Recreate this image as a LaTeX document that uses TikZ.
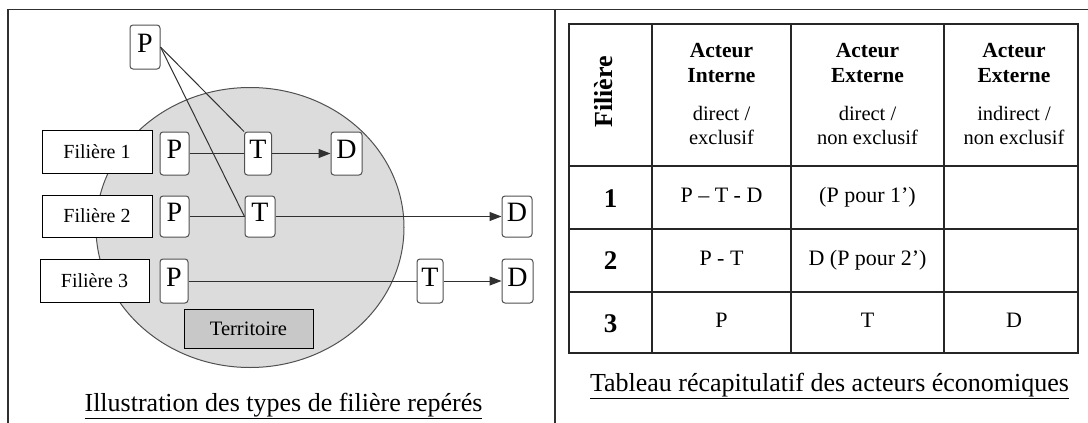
\documentclass[tikz,border=0pt]{standalone}
\usepackage{fontspec}
\setmainfont{Liberation Serif}
\usetikzlibrary{arrows.meta,shapes.geometric}
\definecolor{zonefill}{HTML}{DCDCDC}
\definecolor{terrfill}{HTML}{C8C8C8}
\definecolor{edgegray}{HTML}{505050}
\definecolor{linecol}{HTML}{303030}
\newcommand{\fsz}[1]{\fontsize{#1}{#1}\selectfont}
\begin{document}
\begin{tikzpicture}[x=1pt,y=-1pt,
 pdt/.style={draw=edgegray, line width=1pt, rounded corners=3pt, fill=white, minimum width=29pt, minimum height=43pt, inner sep=0pt, font=\fsz{28}, text height=19pt, text depth=9pt},
 filbox/.style={draw=black, line width=1pt, fill=white, minimum width=110pt, minimum height=43pt, inner sep=0pt, font=\fsz{20}},
 link/.style={draw=linecol, line width=1pt},
 arr/.style={link, -{Triangle[length=12pt,width=9pt]}},
 framel/.style={draw=linecol, line width=1.3pt},
 gridl/.style={draw=black!85, line width=1.3pt},
 hb/.style={anchor=base, font=\bfseries\fsz{21.5}, inner sep=0pt},
 hr/.style={anchor=base, font=\fsz{20.5}, inner sep=0pt},
 cellt/.style={anchor=base, font=\fsz{22}, inner sep=0pt},
 rownum/.style={anchor=base, font=\bfseries\fsz{27}, inner sep=0pt},
 captn/.style={anchor=base, font=\fsz{26}, inner sep=0pt}
]
\useasboundingbox (0,0) rectangle (1088,423);
% frame
\draw[framel] (8,423) -- (8,9.5) -- (1088,9.5);
\draw[framel] (555,9.5) -- (555,423);

% left panel
\node[ellipse, draw=edgegray, fill=zonefill, line width=1pt, minimum width=308pt, minimum height=280pt, inner sep=0pt] (zone) at (250,227.5) {};
\node[draw=black, fill=terrfill, line width=1pt, minimum width=129pt, minimum height=39pt, inner sep=0pt, font=\fsz{20.5}] (terr) at (248.5,328.5) {Territoire};

\node[pdt, minimum width=30pt, minimum height=44pt] (ptop) at (145,47) {P};

\node[filbox] (f1) at (97,152) {Filière 1};
\node[pdt] (p1) at (174.5,153.5) {P};
\node[pdt, minimum width=27pt] (t1) at (258,153.5) {T};
\node[pdt, minimum width=31pt] (d1) at (346.5,153.5) {D};

\node[filbox, minimum height=42pt] (f2) at (97,216) {Filière 2};
\node[pdt, minimum height=41pt] (p2) at (174.5,216.5) {P};
\node[pdt, minimum height=41pt, minimum width=30pt] (t2) at (260,216.5) {T};
\node[pdt, minimum height=41pt, minimum width=30pt] (d2) at (517,216.5) {D};

\node[filbox, minimum width=109pt] (f3) at (94.5,280.5) {Filière 3};
\node[pdt, minimum width=28pt, minimum height=44pt] (p3) at (174,281) {P};
\node[pdt, minimum width=26pt, minimum height=44pt] (t3) at (430,281) {T};
\node[pdt, minimum width=31pt, minimum height=44pt] (d3) at (517.5,281) {D};

\draw[link] (p1) -- (t1);
\draw[arr] (t1) -- (d1);
\draw[link] (p2) -- (t2);
\draw[arr] (t2) -- (d2);
\draw[link] (p3) -- (t3);
\draw[arr] (t3) -- (d3);
\draw[link] (ptop.east) -- (t1.north west);
\draw[link] (ptop.east) -- (t2.west);

\node[captn] (capl) at (283.5,411) {\underline{Illustration des types de filière repérés}};

% right panel: table
\draw[gridl] (569,24) rectangle (1078,353);
\draw[gridl] (569,166) -- (1078,166);
\draw[gridl] (569,229) -- (1078,229);
\draw[gridl] (569,292) -- (1078,292);
\draw[gridl] (652,24) -- (652,353);
\draw[gridl] (791,24) -- (791,353);
\draw[gridl] (944,24) -- (944,353);

\node[rotate=90, font=\bfseries\fsz{26}] (hfil) at (604,92) {Filière};

\node[hb] (h1a) at (721.5,57) {Acteur};
\node[hb] (h1b) at (721.5,82) {Interne};
\node[hr] (h1c) at (721.5,120) {direct /};
\node[hr] (h1d) at (721.5,144) {exclusif};

\node[hb] (h2a) at (867.5,57) {Acteur};
\node[hb] (h2b) at (867.5,82) {Externe};
\node[hr] (h2c) at (867.5,120) {direct /};
\node[hr] (h2d) at (867.5,144) {non exclusif};

\node[hb] (h3a) at (1014,57) {Acteur};
\node[hb] (h3b) at (1014,82) {Externe};
\node[hr] (h3c) at (1014,120) {indirect /};
\node[hr] (h3d) at (1014,144) {non exclusif};

\node[rownum] (r1) at (610.5,207) {1};
\node[rownum] (r2) at (610.5,269) {2};
\node[rownum] (r3) at (610.5,332) {3};

\node[cellt] (c11) at (721.5,202) {P – T - D};
\node[cellt] (c12) at (867.5,202) {(P pour 1’)};
\node[cellt] (c21) at (721.5,265) {P - T};
\node[cellt] (c22) at (867.5,265) {D (P pour 2’)};
\node[cellt] (c31) at (721.5,327) {P};
\node[cellt] (c32) at (867.5,327) {T};
\node[cellt] (c33) at (1014,327) {D};

\node[captn] (capr) at (829.5,391) {\underline{Tableau récapitulatif des acteurs économiques}};
\end{tikzpicture}
\end{document}
